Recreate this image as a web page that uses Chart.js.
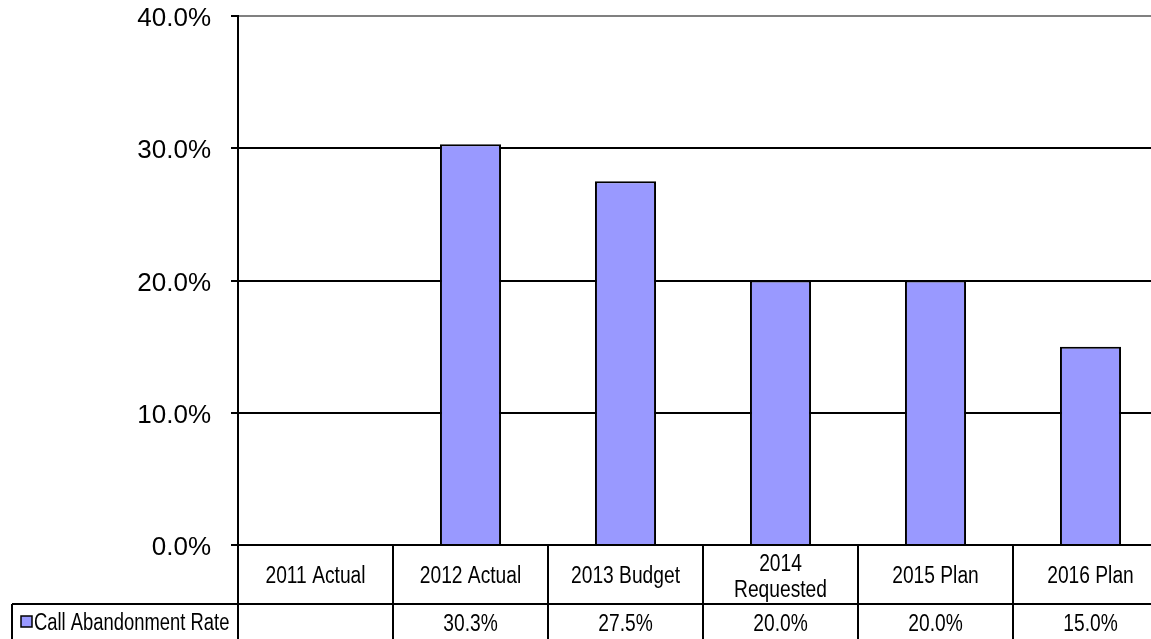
<!DOCTYPE html>
<html>
<head>
<meta charset="utf-8">
<script src="https://cdn.jsdelivr.net/npm/chart.js@4.4.0/dist/chart.umd.min.js"></script>
<style>
  html, body { margin: 0; padding: 0; background: #fff; overflow: hidden; }
  canvas { display: block; }
</style>
</head>
<body>
<canvas id="chart" width="1170" height="639"></canvas>
<script>
// data
const categories = ["2011 Actual", "2012 Actual", "2013 Budget", ["2014", "Requested"], "2015 Plan", "2016 Plan"];
const seriesName = "Call Abandonment Rate";
const abandonRate = [null, 30.3, 27.5, 20.0, 20.0, 15.0];
const yTicks = [0, 10, 20, 30, 40];

const fmt = (v) => v.toFixed(1) + "%";
const tableFont = '23px "Liberation Sans", Arial, sans-serif';

// squeeze horizontally so it reads like Arial Narrow
function narrowText(ctx, text, x, y, squeeze = 0.835) {
  ctx.save();
  ctx.translate(x, y);
  ctx.scale(squeeze, 1);
  ctx.fillText(text, 0, 0);
  ctx.restore();
}

// draws the data table under the plot, positioned off the x scale
const dataTable = {
  id: "dataTable",
  afterDraw(chart) {
    const ctx = chart.ctx;
    const x = chart.scales.x;
    const area = chart.chartArea;
    const n = categories.length;
    const w = (x.right - x.left) / n;
    const top = area.bottom;
    const mid = top + 59;
    const bottom = chart.height;
    const legendLeft = 12;

    ctx.save();
    ctx.strokeStyle = "#000";
    ctx.lineWidth = 2;
    ctx.beginPath();
    ctx.moveTo(legendLeft, mid);
    ctx.lineTo(x.right, mid);
    ctx.moveTo(legendLeft, mid);
    ctx.lineTo(legendLeft, bottom);
    for (let i = 0; i <= n; i++) {
      const cx = x.getPixelForValue(i) - w / 2;
      ctx.moveTo(cx, top);
      ctx.lineTo(cx, bottom);
    }
    ctx.stroke();

    ctx.fillStyle = "#000";
    ctx.font = tableFont;
    ctx.textAlign = "center";
    ctx.textBaseline = "middle";
    categories.forEach((c, i) => {
      const cx = x.getPixelForValue(i);
      if (Array.isArray(c)) {
        narrowText(ctx, c[0], cx, top + 20);
        narrowText(ctx, c[1], cx, top + 46);
      } else {
        narrowText(ctx, c, cx, top + 32);
      }
      const v = abandonRate[i];
      if (v !== null) narrowText(ctx, fmt(v), cx, mid + 21);
    });

    // legend key
    ctx.fillStyle = "#9999FF";
    ctx.fillRect(21, mid + 12, 11, 11);
    ctx.strokeStyle = "#000";
    ctx.lineWidth = 1.5;
    ctx.strokeRect(21, mid + 12, 11, 11);
    ctx.fillStyle = "#000";
    ctx.textAlign = "left";
    narrowText(ctx, seriesName, 34, mid + 20, 0.8);
    ctx.restore();
  },
};

new Chart(document.getElementById("chart"), {
  type: "bar",
  data: {
    labels: categories,
    datasets: [
      {
        label: seriesName,
        data: abandonRate,
        backgroundColor: "#9999FF",
        borderColor: "#000",
        borderWidth: 2,
        categoryPercentage: 1,
        barPercentage: 0.394,
      },
    ],
  },
  options: {
    responsive: false,
    animation: false,
    layout: { padding: { top: 16, bottom: 94, left: 0, right: 2 } },
    plugins: {
      legend: { display: false },
      tooltip: { enabled: false },
    },
    scales: {
      x: {
        display: false,
      },
      y: {
        min: 0,
        max: 40,
        afterFit(scale) {
          scale.width = 238;
          scale.paddingTop = 0;
          scale.paddingBottom = 0;
        },
        afterBuildTicks(scale) {
          scale.ticks = yTicks.map((v) => ({ value: v }));
        },
        ticks: {
          callback: (v) => fmt(v),
          color: "#000",
          padding: 20,
          labelOffset: 3,
          font: { family: '"Liberation Sans", Arial, sans-serif', size: 26 },
        },
        grid: {
          color: (c) => (c.tick && c.tick.value === 40 ? "#808080" : "#000"),
          lineWidth: 2,
          tickLength: 7,
          tickColor: "#000",
        },
        border: { color: "#000", width: 2 },
      },
    },
  },
  plugins: [dataTable],
});
</script>
</body>
</html>
